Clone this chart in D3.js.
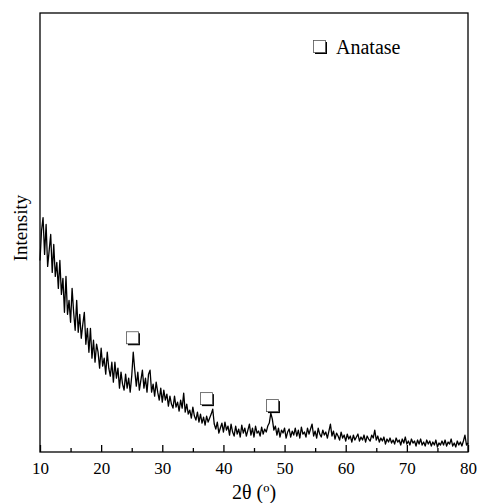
<!DOCTYPE html>
<html>
<head>
<meta charset="utf-8">
<style>
  body { margin: 0; background: #fff; }
  svg { font-family: "Liberation Serif", "Times New Roman", serif; }
</style>
</head>
<body>
<script src="https://d3js.org/d3.v7.min.js"></script>
<svg id="chart" width="478" height="503"></svg>
<script>
// 2-theta grid, 0.25 deg steps from 10 to 80
const thetaStart = 10, thetaStep = 0.25
// intensity (a.u.), one row per 2 degrees
const intensity = [
  960, 1110, 1175, 990, 1140, 930, 1010, 1090,
  900, 1040, 880, 950, 820, 960, 790, 870,
  700, 880, 690, 760, 650, 820, 700, 610,
  760, 600, 690, 570, 640, 700, 540, 620,
  500, 620, 470, 560, 450, 540, 500, 420,
  520, 430, 470, 390, 500, 420, 380, 450,
  350, 450, 370, 420, 320, 400, 340, 310,
  390, 320, 370, 300, 380, 500, 410, 330,
  400, 310, 360, 410, 320, 370, 300, 390,
  410, 300, 340, 280, 350, 300, 260, 320,
  250, 310, 260, 290, 230, 280, 240, 220,
  280, 225, 250, 205, 260, 220, 295, 200,
  240, 190, 210, 170, 225, 180, 160, 200,
  150, 190, 145, 175, 135, 180, 150, 170,
  190, 215, 140, 115, 150, 95, 120, 145,
  100, 150, 110, 130, 85, 140, 100, 80,
  130, 90, 115, 75, 135, 95, 120, 80,
  110, 140, 85, 120, 75, 130, 95, 105,
  80, 125, 90, 115, 100, 130, 145, 195,
  165, 110, 130, 85, 120, 75, 110, 95,
  120, 70, 100, 115, 75, 105, 85, 120,
  80, 110, 70, 125, 90, 100, 75, 120,
  90, 115, 140, 80, 105, 70, 120, 90,
  75, 110, 85, 100, 70, 105, 140, 80,
  105, 65, 95, 80, 60, 100, 70, 85,
  55, 90, 65, 80, 50, 85, 60, 75,
  90, 55, 75, 60, 85, 50, 80, 65,
  55, 85, 70, 110, 60, 80, 50, 70,
  55, 75, 40, 65, 50, 70, 45, 60,
  40, 70, 50, 60, 35, 65, 45, 75,
  40, 55, 35, 65, 45, 55, 30, 60,
  40, 65, 35, 50, 30, 60, 40, 55,
  30, 50, 35, 60, 25, 45, 35, 55,
  35, 60, 30, 50, 40, 65, 30, 45,
  25, 55, 35, 50, 30, 55, 85, 35,
  45
]
// anatase peak markers: position and height of the square symbol
const peakTheta = [25.2, 37.3, 48.1]
const peakMark = [570, 265, 230]
const majorTicks = [10, 20, 30, 40, 50, 60, 70, 80]
const minorTicks = [15, 25, 35, 45, 55, 65, 75]
const legendLabel = "Anatase"

const data = intensity.map((v, i) => ({ t: thetaStart + i * thetaStep, v: v }))

const svg = d3.select("#chart")
const pLeft = 40, pRight = 468, pTop = 13, pBottom = 452

const x = d3.scaleLinear().domain([10, 80]).range([pLeft, pRight])
const y = d3.scaleLinear().domain([0, 2200]).range([pBottom, pTop])

// trace
svg.append("path")
  .datum(data)
  .attr("fill", "none")
  .attr("stroke", "#000")
  .attr("stroke-width", 1.3)
  .attr("stroke-linejoin", "round")
  .attr("d", d3.line().x(d => x(d.t)).y(d => y(d.v)))

// shadowed square symbol
function square(g, cx, cy) {
  g.append("rect").attr("x", cx - 5).attr("y", cy - 5).attr("width", 12).attr("height", 12).attr("fill", "#000")
  g.append("rect").attr("x", cx - 6.5).attr("y", cy - 6.5).attr("width", 12).attr("height", 12)
    .attr("fill", "#fff").attr("stroke", "#555").attr("stroke-width", 0.8)
}
const marks = svg.append("g")
peakTheta.forEach((t, i) => square(marks, x(t), y(peakMark[i])))

// frame
svg.append("rect")
  .attr("x", pLeft).attr("y", pTop)
  .attr("width", pRight - pLeft).attr("height", pBottom - pTop)
  .attr("fill", "none").attr("stroke", "#000").attr("stroke-width", 1.3)

// x axis, ticks pointing inward
const xAxis = svg.append("g")
  .attr("transform", `translate(0,${pBottom})`)
  .call(d3.axisBottom(x).tickValues(majorTicks).tickSize(-7).tickPadding(10).tickFormat(d3.format("d")))
xAxis.select(".domain").remove()
xAxis.selectAll("line").attr("stroke-width", 1.3)
xAxis.selectAll("text").attr("font-size", 17).attr("font-family", "Liberation Serif").attr("fill", "#000")

const xMinor = svg.append("g")
  .attr("transform", `translate(0,${pBottom})`)
  .call(d3.axisBottom(x).tickValues(minorTicks).tickSize(-4).tickFormat(""))
xMinor.select(".domain").remove()
xMinor.selectAll("line").attr("stroke-width", 1.3)

// axis titles
svg.append("text")
  .attr("x", (pLeft + pRight) / 2).attr("y", 499)
  .attr("text-anchor", "middle").attr("font-size", 20)
  .text("2θ (º)")

svg.append("text")
  .attr("transform", "translate(27,228) rotate(-90)")
  .attr("text-anchor", "middle").attr("font-size", 19)
  .text("Intensity")

// legend
const leg = svg.append("g")
square(leg, 320, 47)
leg.append("text")
  .attr("x", 336).attr("y", 54)
  .attr("font-size", 20)
  .text(legendLabel)
</script>
</body>
</html>
